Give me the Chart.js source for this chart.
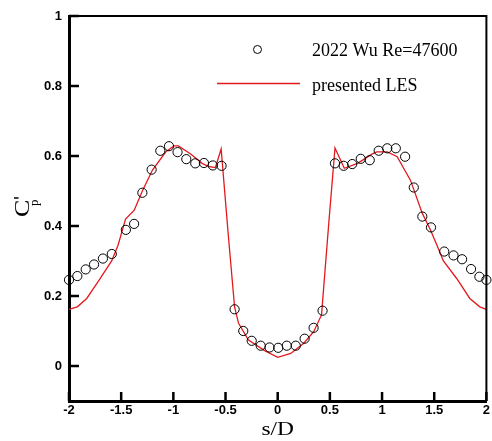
<!DOCTYPE html>
<html>
<head>
<meta charset="utf-8">
<script src="https://cdn.jsdelivr.net/npm/chart.js@4.4.0/dist/chart.umd.min.js"></script>
<style>
  html, body { margin: 0; padding: 0; background: #fff; }
  #wrap { width: 492px; height: 441px; position: relative; }
</style>
</head>
<body>
<div id="wrap"><canvas id="cpChart"></canvas></div>
<script>
// experiment: 2022 Wu, Re=47600
const expS = [-2, -1.92, -1.84, -1.76, -1.675, -1.59, -1.455, -1.376, -1.297, -1.208, -1.125,
  -1.042, -0.96, -0.876, -0.79, -0.707, -0.622, -0.538, -0.413, -0.33, -0.249, -0.163, -0.078,
  0.005, 0.087, 0.173, 0.258, 0.344, 0.43, 0.549, 0.632, 0.714, 0.796, 0.882, 0.968, 1.05,
  1.132, 1.221, 1.304, 1.386, 1.469, 1.596, 1.685, 1.767, 1.853, 1.933, 2];
const expCp = [0.246, 0.257, 0.276, 0.29, 0.307, 0.32, 0.389, 0.406, 0.495, 0.561, 0.615,
  0.628, 0.611, 0.591, 0.579, 0.58, 0.573, 0.572, 0.162, 0.1, 0.072, 0.058, 0.053,
  0.052, 0.058, 0.058, 0.078, 0.109, 0.158, 0.579, 0.572, 0.577, 0.592, 0.588, 0.615, 0.622,
  0.622, 0.598, 0.51, 0.427, 0.396, 0.327, 0.316, 0.305, 0.277, 0.255, 0.246];

// presented LES
const lesS = [-2, -1.92, -1.83, -1.71, -1.59, -1.53, -1.458, -1.375, -1.297, -1.2, -1.072,
  -0.993, -0.952, -0.834, -0.724, -0.66, -0.597, -0.542, -0.47, -0.413, -0.375, -0.28, -0.125,
  0, 0.125, 0.25, 0.345, 0.42, 0.49, 0.549, 0.638, 0.765, 0.907, 0.95, 1.05, 1.145, 1.272,
  1.386, 1.462, 1.525, 1.588, 1.715, 1.841, 1.937, 2];
const lesCp = [0.162, 0.169, 0.193, 0.246, 0.301, 0.345, 0.42, 0.445, 0.5, 0.56, 0.612,
  0.629, 0.629, 0.606, 0.579, 0.57, 0.567, 0.62, 0.362, 0.168, 0.122, 0.074, 0.044,
  0.025, 0.036, 0.065, 0.098, 0.146, 0.41, 0.623, 0.565, 0.579, 0.606, 0.612, 0.612, 0.598, 0.531,
  0.436, 0.39, 0.346, 0.3, 0.25, 0.193, 0.169, 0.162];

const xTicks = [-2, -1.5, -1, -0.5, 0, 0.5, 1, 1.5, 2];
const xTickLabels = ['-2', '-1.5', '-1', '-0.5', '0', '0.5', '1', '1.5', '2'];
const yTicks = [0, 0.2, 0.4, 0.6, 0.8, 1];
const yTickLabels = ['0', '0.2', '0.4', '0.6', '0.8', '1'];
const seriesNames = ['2022 Wu Re=47600', 'presented LES'];

const lesColor = '#e3191e';
const serif = '"Liberation Serif", "Times New Roman", serif';
const tickFont = { family: '"Liberation Sans", Arial, sans-serif', size: 13, weight: 'bold' };

function toPoints(xs, ys) {
    return xs.map((x, i) => ({ x: x, y: ys[i] }));
}

// frame, inward ticks, axis titles and legend
const framePlugin = {
    id: 'frame',
    afterDraw(chart) {
        const { ctx, chartArea: a, scales } = chart;
        ctx.save();
        ctx.strokeStyle = '#000';
        ctx.lineWidth = 2;
        ctx.beginPath();
        ctx.moveTo(a.left, a.top);
        ctx.lineTo(a.right, a.top);
        ctx.lineTo(a.right, a.bottom);
        ctx.stroke();

        ctx.lineWidth = 2.5;
        ctx.beginPath();
        scales.y.ticks.forEach(t => {
            const py = scales.y.getPixelForValue(t.value);
            ctx.moveTo(a.left, py);
            ctx.lineTo(a.left + 10, py);
        });
        scales.x.ticks.forEach(t => {
            const px = scales.x.getPixelForValue(t.value);
            ctx.moveTo(px, a.bottom);
            ctx.lineTo(px, a.bottom - 9);
        });
        ctx.stroke();

        // x title
        ctx.fillStyle = '#000';
        ctx.save();
        ctx.translate((a.left + a.right) / 2, 435);
        ctx.scale(1.3, 1);
        ctx.font = '18px ' + serif;
        ctx.textAlign = 'center';
        ctx.textBaseline = 'alphabetic';
        ctx.fillText('s/D', 0, 0);
        ctx.restore();

        // y title C'p
        ctx.save();
        ctx.translate(29, 217);
        ctx.rotate(-Math.PI / 2);
        ctx.save();
        ctx.scale(1.3, 1);
        ctx.font = '20px ' + serif;
        ctx.textAlign = 'left';
        ctx.fillText('C', 0, 0);
        ctx.restore();
        ctx.font = '13px ' + serif;
        ctx.fillText('p', 11, 8.5);
        ctx.restore();
        ctx.lineWidth = 1.5;
        ctx.beginPath();
        ctx.moveTo(14, 198);
        ctx.lineTo(18.5, 198);
        ctx.stroke();

        // legend
        ctx.lineWidth = 1;
        ctx.beginPath();
        ctx.arc(257.5, 49.5, 4, 0, Math.PI * 2);
        ctx.stroke();
        ctx.strokeStyle = lesColor;
        ctx.lineWidth = 1.3;
        ctx.beginPath();
        ctx.moveTo(217, 83.5);
        ctx.lineTo(300, 83.5);
        ctx.stroke();
        ctx.font = '18px ' + serif;
        ctx.textAlign = 'left';
        ctx.fillText(seriesNames[0], 312, 56);
        ctx.fillText(seriesNames[1], 312, 91);
        ctx.restore();
    }
};

new Chart(document.getElementById('cpChart'), {
    type: 'scatter',
    data: {
        datasets: [{
            label: seriesNames[0],
            data: toPoints(expS, expCp),
            pointStyle: 'circle',
            pointRadius: 4.6,
            borderColor: '#000',
            borderWidth: 1,
            backgroundColor: 'rgba(0,0,0,0)',
            showLine: false,
            clip: false
        }, {
            label: seriesNames[1],
            data: toPoints(lesS, lesCp),
            showLine: true,
            pointRadius: 0,
            borderColor: lesColor,
            borderWidth: 1.3,
            tension: 0,
            clip: false
        }]
    },
    options: {
        responsive: true,
        maintainAspectRatio: false,
        animation: false,
        events: [],
        layout: { padding: { left: 0, right: 2, top: 16, bottom: 0 } },
        plugins: { legend: { display: false }, tooltip: { enabled: false } },
        scales: {
            x: {
                type: 'linear',
                min: -2,
                max: 2,
                grid: { display: false, drawTicks: false },
                border: { display: true, width: 3, color: '#000' },
                afterBuildTicks: scale => { scale.ticks = xTicks.map(v => ({ value: v })); },
                afterFit: scale => { scale.height = 40; scale.paddingLeft = 0; scale.paddingRight = 0; },
                ticks: {
                    color: '#000',
                    font: tickFont,
                    padding: 2,
                    maxRotation: 0,
                    autoSkip: false,
                    callback: (v, i) => xTickLabels[i]
                }
            },
            y: {
                type: 'linear',
                min: -0.1,
                max: 1,
                grid: { display: false, drawTicks: false },
                border: { display: true, width: 3, color: '#000' },
                afterBuildTicks: scale => { scale.ticks = yTicks.map(v => ({ value: v })); },
                afterFit: scale => { scale.width = 69; scale.paddingTop = 0; scale.paddingBottom = 0; },
                ticks: {
                    color: '#000',
                    font: tickFont,
                    padding: 7,
                    autoSkip: false,
                    callback: (v, i) => yTickLabels[i]
                }
            }
        }
    },
    plugins: [framePlugin]
});
</script>
</body>
</html>
